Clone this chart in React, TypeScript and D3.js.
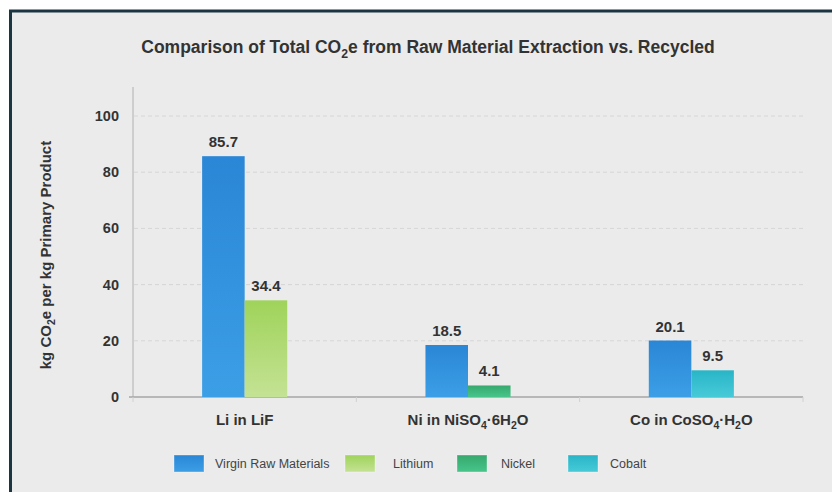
import React from "react";
import * as d3 from "d3";

const categories = ["Li in LiF", "Ni in NiSO_4·6H_2O", "Co in CoSO_4·H_2O"];
const virginValues = [85.7, 18.5, 20.1];
const recycledValues = [34.4, 4.1, 9.5];
const recycledNames = ["Lithium", "Nickel", "Cobalt"];
const legendLabels = ["Virgin Raw Materials", "Lithium", "Nickel", "Cobalt"];
const yTicks = [0, 20, 40, 60, 80, 100];

const W = 832;
const H = 492;
const FONT = "'Liberation Sans', Arial, Helvetica, sans-serif";

const grads = [
  { id: "gVirgin", top: "#2a86d6", bottom: "#3c9fe6" },
  { id: "gLithium", top: "#9fd35a", bottom: "#c4e294" },
  { id: "gNickel", top: "#36a86d", bottom: "#47c58b" },
  { id: "gCobalt", top: "#29b5c7", bottom: "#47cad8" },
];

function SubText(props: { s: string; x: number; y: number; size: number; weight?: string; anchor?: string; fill?: string; transform?: string }) {
  const { s, x, y, size, weight = "bold", anchor = "middle", fill = "#333", transform } = props;
  const parts: React.ReactNode[] = [];
  const shift = size * 0.28;
  const re = /_(\d)/g;
  let last = 0;
  let m: RegExpExecArray | null;
  let k = 0;
  let pendingUp = false;
  while ((m = re.exec(s)) !== null) {
    if (m.index > last) {
      parts.push(<tspan key={k++} dy={pendingUp ? -shift : undefined}>{s.slice(last, m.index)}</tspan>);
      pendingUp = false;
    }
    parts.push(
      <tspan key={k++} fontSize={size * 0.7} dy={pendingUp ? 0 : shift}>
        {m[1]}
      </tspan>
    );
    pendingUp = true;
    last = m.index + m[0].length;
  }
  if (last < s.length) parts.push(<tspan key={k++} dy={pendingUp ? -shift : undefined}>{s.slice(last)}</tspan>);
  return (
    <text x={x} y={y} fontSize={size} fontWeight={weight} textAnchor={anchor} fill={fill} fontFamily={FONT} transform={transform}>
      {parts}
    </text>
  );
}

export default function App() {
  const left = 133, right = 803, top = 87, bottom = 397;
  const y = d3.scaleLinear().domain([0, 100]).range([bottom, 116]);
  const x0 = d3.scaleBand<string>().domain(categories).range([left, right]).paddingInner(0).paddingOuter(0);
  const x1 = d3.scaleBand<string>().domain(["virgin", "recycled"]).range([0, x0.bandwidth()]).paddingInner(0).paddingOuter(1.625);

  return (
    <svg width={W} height={H} style={{ position: "absolute", left: 0, top: 0, display: "block" }}>
      <defs>
        {grads.map((g) => (
          <linearGradient key={g.id} id={g.id} x1="0" y1="0" x2="0" y2="1">
            <stop offset="0%" stopColor={g.top} />
            <stop offset="100%" stopColor={g.bottom} />
          </linearGradient>
        ))}
      </defs>
      <rect x={0} y={0} width={W} height={H} fill="#ffffff" />
      <rect x={10.5} y={11} width={W + 10} height={H + 10} fill="#ebebeb" stroke="#1b3640" strokeWidth={3} />

      <SubText s="Comparison of Total CO_2e from Raw Material Extraction vs. Recycled" x={428} y={53} size={17.5} />

      {yTicks.filter((t) => t > 0).map((t) => (
        <line key={t} x1={left + 1} x2={right} y1={y(t)} y2={y(t)} stroke="#d6d6d6" strokeWidth={1} strokeDasharray="4,3" />
      ))}
      <line x1={left} x2={left} y1={top} y2={bottom} stroke="#b0b0b0" strokeWidth={1} />
      <line x1={left - 4} x2={right} y1={bottom} y2={bottom} stroke="#a6a6a6" strokeWidth={1.5} />
      {[0, 1, 2, 3].map((i) => {
        const xx = left + i * x0.step();
        return <line key={i} x1={xx} x2={xx} y1={bottom} y2={bottom + 5} stroke="#d0d0d0" strokeWidth={1} />;
      })}

      {yTicks.map((t) => (
        <text key={t} x={119} y={y(t) + 5} fontSize={14.5} fontWeight="bold" textAnchor="end" fill="#333" fontFamily={FONT}>
          {t}
        </text>
      ))}

      <SubText s="kg CO_2e per kg Primary Product" x={0} y={0} size={15} transform={`translate(51,255) rotate(-90)`} />

      {categories.map((c, i) => {
        const bx = x0(c)!;
        const vx = bx + x1("virgin")!;
        const rx = bx + x1("recycled")!;
        const bw = x1.bandwidth();
        const rGrad = grads[i + 1].id;
        return (
          <g key={c}>
            <rect x={vx} y={y(virginValues[i])} width={bw} height={bottom - y(virginValues[i])} fill={`url(#gVirgin)`} />
            <rect x={rx} y={y(recycledValues[i])} width={bw} height={bottom - y(recycledValues[i])} fill={`url(#${rGrad})`} />
            <text x={vx + bw / 2} y={y(virginValues[i]) - 9} fontSize={15} fontWeight="bold" textAnchor="middle" fill="#333" fontFamily={FONT}>
              {virginValues[i]}
            </text>
            <text x={rx + bw / 2} y={y(recycledValues[i]) - 9} fontSize={15} fontWeight="bold" textAnchor="middle" fill="#333" fontFamily={FONT}>
              {recycledValues[i]}
            </text>
            <SubText s={c} x={bx + x0.bandwidth() / 2} y={425} size={15} />
          </g>
        );
      })}

      {legendLabels.map((l, i) => {
        const sx = [174, 345, 457, 568][i];
        const tx = [215, 393, 501, 610][i];
        return (
          <g key={l}>
            <rect x={sx} y={455} width={30} height={17} fill={`url(#${grads[i].id})`} stroke="#ffffff" strokeOpacity={0.35} />
            <text x={tx} y={468} fontSize={12.5} fill="#444" fontFamily={FONT}>
              {l}
            </text>
          </g>
        );
      })}
      <title>{recycledNames.join(", ")}</title>
    </svg>
  );
}
